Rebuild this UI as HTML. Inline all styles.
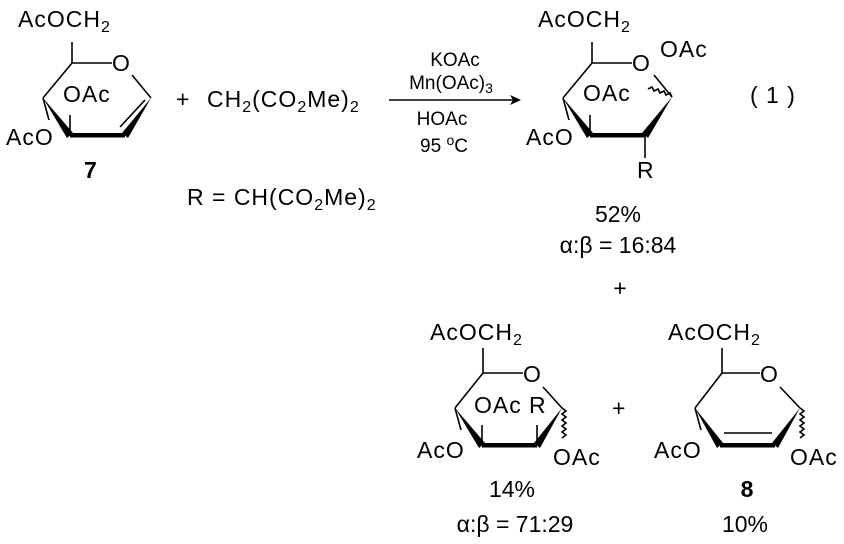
<!DOCTYPE html>
<html><head><meta charset="utf-8"><style>
body{margin:0;background:#fff}
svg{display:block}
text{font-family:"Liberation Sans",Arial,sans-serif;font-size:23px;fill:#000}
.s{font-size:16px}
.r{font-size:19px}
.rs{font-size:14px}
</style></head><body>
<svg width="844" height="544" viewBox="0 0 844 544" xmlns="http://www.w3.org/2000/svg">
<g stroke="#000" stroke-width="1.6" fill="none">
<!-- 7 -->
<line x1="72" y1="42" x2="72" y2="63"/><line x1="72" y1="63" x2="112" y2="63"/>
<line x1="132" y1="75" x2="151" y2="98"/><line x1="72" y1="63" x2="43" y2="98"/>
<line x1="70" y1="115" x2="70" y2="135"/><line x1="43" y1="98" x2="49" y2="120"/>
<line x1="120" y1="127" x2="145" y2="100"/>
<!-- P1 -->
<line x1="592" y1="42" x2="592" y2="63"/><line x1="592" y1="63" x2="632" y2="63"/>
<line x1="654" y1="75" x2="672" y2="97"/><line x1="592" y1="63" x2="563" y2="98"/>
<line x1="590" y1="115" x2="590" y2="135"/><line x1="563" y1="98" x2="569" y2="120"/>
<line x1="645" y1="135" x2="645" y2="158"/>
<path d="M672 97 l-2 -4 l-4 2 l-2 -4 l-4 2 l-2 -4 l-4 2 l-2 -4 l-4 2"/>
<!-- P2 -->
<line x1="483" y1="348" x2="483" y2="373"/><line x1="483" y1="373" x2="523" y2="373"/>
<line x1="543" y1="387" x2="562" y2="408"/><line x1="483" y1="373" x2="455" y2="408"/>
<line x1="482" y1="425" x2="482" y2="445"/><line x1="537" y1="425" x2="537" y2="445"/>
<line x1="455" y1="408" x2="461" y2="430"/>
<path d="M562 408 l4 3 l-4 3 l4 3 l-4 3 l4 3 l-4 3 l4 3 l-4 3 l4 3 l-4 3"/>
<!-- 8 -->
<line x1="722" y1="348" x2="722" y2="373"/><line x1="722" y1="373" x2="760" y2="373"/>
<line x1="780" y1="387" x2="800" y2="408"/><line x1="722" y1="373" x2="695" y2="408"/>
<line x1="695" y1="408" x2="701" y2="430"/><line x1="724" y1="433" x2="772" y2="433"/>
<path d="M800 408 l4 3 l-4 3 l4 3 l-4 3 l4 3 l-4 3 l4 3 l-4 3 l4 3 l-4 3"/>
<!-- arrow -->
<line x1="389" y1="100" x2="515" y2="100"/>
</g>
<g fill="#000">
<polygon points="521,100 510,95 513,100 510,105"/>
<polygon points="43,98 67,138 73,133"/><rect x="70" y="133" width="55" height="4.5"/>
<polygon points="151,98 122,133 128,138"/>
<polygon points="563,98 587,138 593,133"/><rect x="590" y="133" width="55" height="4.5"/>
<polygon points="672,97 642,133 648,138"/>
<polygon points="455,408 479,448 485,443"/><rect x="482" y="443" width="55" height="4.5"/>
<polygon points="562,408 534,443 540,448"/>
<polygon points="695,408 717,448 723,443"/><rect x="720" y="443" width="55" height="4.5"/>
<polygon points="800,408 772,443 778,448"/>
</g>
<g letter-spacing="1">
<text x="18" y="27">AcOCH<tspan class="s" dy="5">2</tspan></text>
<text x="112" y="71">O</text>
<text x="63" y="102">OAc</text>
<text x="6" y="145">AcO</text>
<text x="84" y="178" font-weight="bold">7</text>
<text x="176" y="107">+</text>
<text x="207" y="107">CH<tspan class="s" dy="5">2</tspan><tspan dy="-5">(CO</tspan><tspan class="s" dy="5">2</tspan><tspan dy="-5">Me)</tspan><tspan class="s" dy="5">2</tspan></text>
<text x="187" y="205">R = CH(CO<tspan class="s" dy="5">2</tspan><tspan dy="-5">Me)</tspan><tspan class="s" dy="5">2</tspan></text>
<text x="538" y="27">AcOCH<tspan class="s" dy="5">2</tspan></text>
<text x="632" y="71">O</text>
<text x="660" y="57">OAc</text>
<text x="583" y="101">OAc</text>
<text x="526" y="145">AcO</text>
<text x="637" y="178">R</text>
<text x="750" y="103">( 1 )</text>
<text x="430" y="340">AcOCH<tspan class="s" dy="5">2</tspan></text>
<text x="523" y="382">O</text>
<text x="474" y="413">OAc</text>
<text x="529" y="413">R</text>
<text x="553" y="465">OAc</text>
<text x="417" y="458">AcO</text>
<text x="612" y="416">+</text>
<text x="668" y="340">AcOCH<tspan class="s" dy="5">2</tspan></text>
<text x="760" y="382">O</text>
<text x="790" y="465">OAc</text>
<text x="654" y="458">AcO</text>
</g>
<g text-anchor="middle">
<text x="455" y="66" class="r">KOAc</text>
<text x="451" y="89" class="r">Mn(OAc)<tspan class="rs" dy="4">3</tspan></text>
<text x="442" y="125" class="r">HOAc</text>
<text x="444" y="152" class="r">95 <tspan class="rs" dy="-7">o</tspan><tspan dy="7">C</tspan></text>
<text x="618" y="222">52%</text>
<text x="618" y="253">α:β = 16:84</text>
<text x="620" y="296">+</text>
<text x="512" y="497">14%</text>
<text x="515" y="532">α:β = 71:29</text>
<text x="747" y="497" font-weight="bold">8</text>
<text x="745" y="532">10%</text>
</g>
</svg>
</body></html>
